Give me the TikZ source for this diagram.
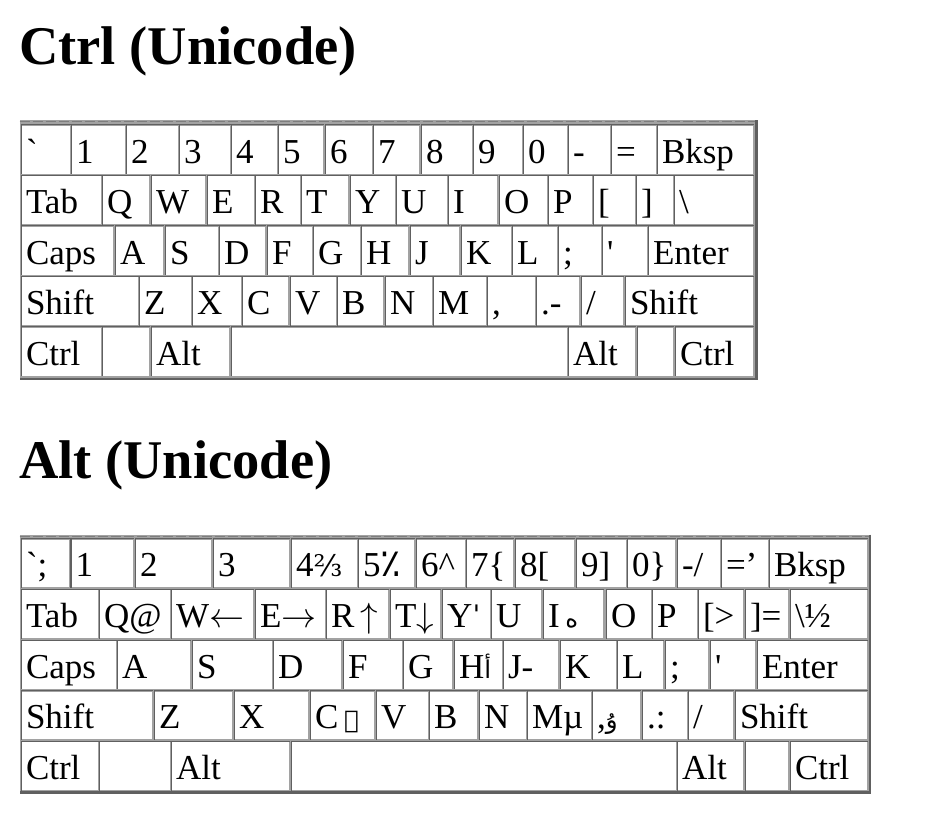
\RequirePackage{fix-cm}
\documentclass[tikz,border=0pt]{standalone}
\usepackage{fontspec}
\setmainfont{Liberation Serif}
\newfontfamily\keyfont{Liberation Serif}
\newfontfamily\symbfont[Scale=0.85]{DejaVu Serif}
\newfontfamily\arabicfont[Script=Arabic, Scale=0.7]{DejaVu Sans}
\newfontfamily\arabicbig[Script=Arabic, Scale=1.1]{DejaVu Sans}
\TeXXeTstate=1
\definecolor{rimlight}{RGB}{162,162,162}
\definecolor{rimdark}{RGB}{96,96,96}
\definecolor{rimdash}{RGB}{125,125,125}
\tikzset{
  heading/.style={font=\fontsize{54.5}{60}\selectfont\bfseries, anchor=base west, inner sep=0pt},
  board/.style={fill=rimlight},
  boardtop/.style={draw=rimdash, line width=1pt, dash pattern=on 10pt off 3pt},
  boardshade/.style={draw=rimdark, line width=2.4pt},
  keyedge/.style={draw=rimdark, line width=1.2pt, line cap=rect},
  keycap/.style={fill=white, anchor=north west, inner xsep=3.8pt, inner ysep=0pt,
    text height=27pt, text depth=0pt, align=left, font=\keyfont\fontsize{35}{40}\selectfont,
    append after command={
      ([xshift=-0.6pt]\tikzlastnode.south west) edge[keyedge] ([shift={(-0.6pt,0.6pt)}]\tikzlastnode.north west)
      ([shift={(-0.6pt,0.6pt)}]\tikzlastnode.north west) edge[keyedge] ([yshift=0.6pt]\tikzlastnode.north east)}},
  ctrlkey/.style={keycap, minimum height=48pt},
  altkey/.style={keycap, minimum height=47.6pt}
}

\begin{document}
\begin{tikzpicture}[x=1pt, y=-1pt]
  \useasboundingbox (0,0) rectangle (932,835);

  % Headings
  \node[heading] (ctrltitle) at (19,64) {Ctrl (Unicode)};
  \node[heading] (alttitle) at (19,478) {Alt (Unicode)};

  % Ctrl board frame
  \fill[board] (19.5,120) rectangle (757.5,380);
  \draw[boardtop] (19.5,121.5) -- (757.5,121.5);
  \draw[boardshade] (756.3,120) -- (756.3,378.8) -- (19.5,378.8);

  % Ctrl board keys, one loop per row
  \foreach \xa/\xb/\lab [count=\k] in {22/70/{`}, 72/125/1, 127/178/2, 180/230/3, 232/277/4, 279/323/5, 326/372/6, 374/419/7, 422/472/8, 474/522/9, 524/567/0, 569/610/{-}, 612/656/{=}, 658/753/Bksp}
    {\pgfmathsetmacro\tw{\xb-\xa-7.6}
     \node[ctrlkey, text width=\tw pt] (ctrl-1-\k) at (\xa,125.4) {\lab};}
  \foreach \xa/\xb/\lab [count=\k] in {22/101/Tab, 103/149/Q, 152/205/W, 208/254/E, 256/300/R, 302/348/T, 351/395/Y, 397/447/U, 449/497/I, 500/547/O, 549/592/P, 594/635/{[}, 637/673/{]}, 675/753/{\textbackslash}}
    {\pgfmathsetmacro\tw{\xb-\xa-7.6}
     \node[ctrlkey, text width=\tw pt] (ctrl-2-\k) at (\xa,175.9) {\lab};}
  \foreach \xa/\xb/\lab [count=\k] in {22/113/Caps, 116/163/A, 166/218/S, 220/265/D, 268/312/F, 314/360/G, 362/408/H, 411/459/J, 462/511/K, 513/557/L, 559/601/{;}, 603/647/{'}, 649/753/Enter}
    {\pgfmathsetmacro\tw{\xb-\xa-7.6}
     \node[ctrlkey, text width=\tw pt] (ctrl-3-\k) at (\xa,226.4) {\lab};}
  \foreach \xa/\xb/\lab [count=\k] in {22/138/Shift, 140/191/Z, 193/241/X, 243/288/C, 291/336/V, 338/383/B, 386/432/N, 434/486/M, 488/535/{,}, 537/579/{.-}, 582/623/{/}, 626/753/Shift}
    {\pgfmathsetmacro\tw{\xb-\xa-7.6}
     \node[ctrlkey, text width=\tw pt] (ctrl-4-\k) at (\xa,276.9) {\lab};}
  \foreach \xa/\xb/\lab [count=\k] in {22/101/Ctrl, 103/149/{}, 152/229/Alt, 232/567/{}, 569/635/Alt, 638/673/{}, 676/753/Ctrl}
    {\pgfmathsetmacro\tw{\xb-\xa-7.6}
     \node[ctrlkey, text width=\tw pt] (ctrl-5-\k) at (\xa,327.4) {\lab};}

  % Alt board frame
  \fill[board] (19.5,534.5) rectangle (871,793.5);
  \draw[boardtop] (19.5,536) -- (871,536);
  \draw[boardshade] (869.8,534.5) -- (869.8,792.3) -- (19.5,792.3);

  % Alt board keys
  \foreach \xa/\xb/\lab [count=\k] in {22/69/{`;}, 71.5/133/1, 136/211/2, 214/289/3, 292/357/{4{\symbfont ⅔}}, 359/414/{5{\arabicbig\beginR ٪\endR}}, 417/465/{6\textasciicircum}, 467/513/{7\{}, 516/574/{8[}, 577/626/{9]}, 628/675/{0\}}, 678/720/{-/}, 722/768/{=’}, 770/867/Bksp}
    {\pgfmathsetmacro\tw{\xb-\xa-7.6}
     \node[altkey, text width=\tw pt] (alt-1-\k) at (\xa,539.3) {\lab};}
  \foreach \xa/\xb/\lab [count=\k] in {22/98/Tab, 100/170/{Q@}, 172/253/{W$\leftarrow$}, 256/325/{E$\rightarrow$}, 327/388/{R\,$\uparrow$}, 391/440/{T$\downarrow$}, 443/490/{Y{\symbfont ˈ}}, 492/541/U, 544/603/{I\,{\arabicfont\beginR ه\endR}}, 607/651/O, 653/697/P, 699/743/{[>}, 746/788/{]=}, 791/867/{\textbackslash½}}
    {\pgfmathsetmacro\tw{\xb-\xa-7.6}
     \node[altkey, text width=\tw pt] (alt-2-\k) at (\xa,590) {\lab};}
  \foreach \xa/\xb/\lab [count=\k] in {22/116/Caps, 118/190/A, 193/272/S, 274/341/D, 344/402/F, 404/452/G, 455/502/{H{\arabicfont\beginR أ\endR}}, 504/558/{J-}, 561/616/K, 618/663/L, 666/708/{;}, 711/755/{'}, 758/867/Enter}
    {\pgfmathsetmacro\tw{\xb-\xa-7.6}
     \node[altkey, text width=\tw pt] (alt-3-\k) at (\xa,640.7) {\lab};}
  \foreach \xa/\xb/\lab [count=\k] in {22/152/Shift, 155/232/Z, 235/308/X, 311/374/{C\,{\arabicfont\beginR ے\endR}}, 377/428/V, 430/477/B, 480/526/N, 528/591/{Mµ}, 593/640/{,{\arabicfont\beginR ۇ\endR}}, 643/687/{.:}, 689/733/{/}, 736/867/Shift}
    {\pgfmathsetmacro\tw{\xb-\xa-7.6}
     \node[altkey, text width=\tw pt] (alt-4-\k) at (\xa,691.4) {\lab};}
  \foreach \xa/\xb/\lab [count=\k] in {22/98/Ctrl, 100/170/{}, 172/289/Alt, 292/676/{}, 678/743/Alt, 746/788/{}, 791/867/Ctrl}
    {\pgfmathsetmacro\tw{\xb-\xa-7.6}
     \node[altkey, text width=\tw pt] (alt-5-\k) at (\xa,742.1) {\lab};}
\end{tikzpicture}
\end{document}
